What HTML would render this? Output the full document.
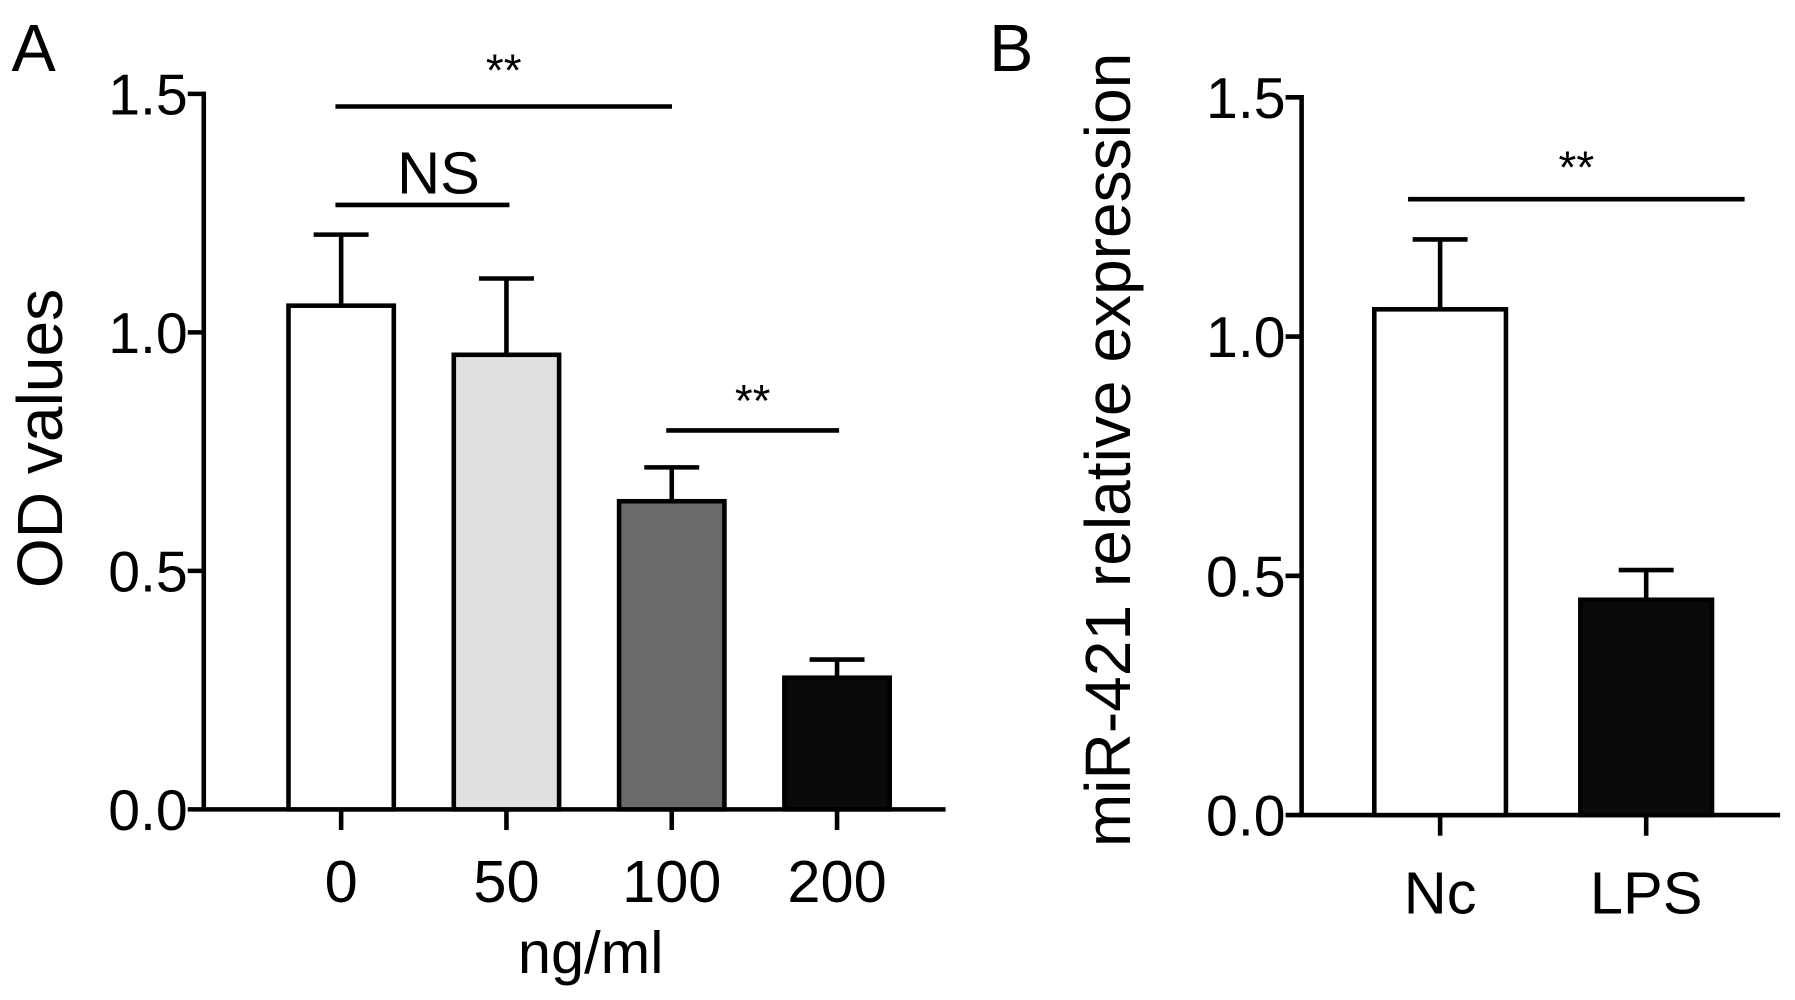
<!DOCTYPE html>
<html><head><meta charset="utf-8"><style>
html,body{margin:0;padding:0;background:#fff;}
svg{display:block;font-family:"Liberation Sans",Arial,sans-serif;}
</style></head><body>
<svg id="fig" width="1795" height="1000" viewBox="0 0 1568 873.5" xmlns="http://www.w3.org/2000/svg">
<text x="10" y="62" font-size="58">A</text>
<text x="864" y="62" font-size="58">B</text>
<g id="chartA"></g>
<g id="chartB"></g>
</svg>
<script>
const catsA = ["0","50","100","200"];
const valsA = [1.056, 0.953, 0.646, 0.276];
const errA = [0.149, 0.16, 0.071, 0.038];
const fillsA = ["#ffffff","#e0e0e0","#6a6a6a","#0a0a0a"];
const catsB = ["Nc","LPS"];
const valsB = [1.057, 0.45];
const errB = [0.146, 0.062];
const fillsB = ["#ffffff","#0a0a0a"];
const yTicks = [0, 0.5, 1.0, 1.5];
const yTickLabels = ["0.0","0.5","1.0","1.5"];
const NS="http://www.w3.org/2000/svg";
function mk(p,tag,a,txt){const e=document.createElementNS(NS,tag);for(const k in a)e.setAttribute(k,a[k]);if(txt!==undefined)e.textContent=txt;p.appendChild(e);return e;}
function chart(g,o){
  const y=v=>o.y0-(v/1.5)*(o.y0-o.y15);
  const x=i=>o.x0+o.step*i;
  let e;
  e=mk(g,'line',{x1:o.ax,y1:y(1.5)-2,x2:o.ax,y2:y(0),stroke:'#000','stroke-width':4});
  
  
  e=mk(g,'line',{x1:o.ax-2,y1:y(0),x2:o.axEnd,y2:y(0),stroke:'#000','stroke-width':4});
  
  
  yTicks.forEach((t,i)=>{
    e=mk(g,'line',{x1:o.ax-14,y1:y(t),x2:o.ax,y2:y(t),stroke:'#000','stroke-width':4});
    
    
    e=mk(g,'text',{x:o.ax-14,y:y(t)+18,'font-size':50,'text-anchor':'end'},yTickLabels[i]);
    
    
  });
  o.cats.forEach((c,i)=>{
    const cx=x(i), top=y(o.vals[i]), et=y(o.vals[i]+o.err[i]);
    e=mk(g,'line',{x1:cx,y1:et,x2:cx,y2:top,stroke:'#000','stroke-width':4});
    
    
    e=mk(g,'line',{x1:cx-o.cap,y1:et,x2:cx+o.cap,y2:et,stroke:'#000','stroke-width':4});
    
    
    e=mk(g,'rect',{x:cx-o.bw/2,y:top,width:o.bw,height:y(0)-top,fill:o.fills[i],stroke:'#000','stroke-width':4});
    
    
    e=mk(g,'line',{x1:cx,y1:y(0),x2:cx,y2:y(0)+18,stroke:'#000','stroke-width':4});
    
    
    e=mk(g,'text',{x:cx,y:o.labY,'font-size':52,'text-anchor':'middle'},c);
    
    
  });
  o.sig.forEach(s=>{
    e=mk(g,'line',{x1:s[0],y1:s[2],x2:s[1],y2:s[2],stroke:'#000','stroke-width':4});
    
    
    e=mk(g,'text',{x:(s[0]+s[1])/2+(s[3]=='NS'?14:0),y:s[2]+s[4],'font-size':s[3]=='NS'?52:40,'text-anchor':'middle'},s[3]);
    
    
  });
}
chart(document.getElementById('chartA'),{ax:178,axEnd:826,y0:707,y15:82,x0:298,step:144.4,bw:92,cap:24,cats:catsA,vals:valsA,err:errA,fills:fillsA,labY:788,
 sig:[[293,587,93,'**',-18],[293,445,179,'NS',-10],[582,733,376,'**',-12]]});
chart(document.getElementById('chartB'),{ax:1137,axEnd:1555,y0:712,y15:85,x0:1258,step:180,bw:115,cap:24,cats:catsB,vals:valsB,err:errB,fills:fillsB,labY:798,
 sig:[[1230,1524,174,'**',-14]]});
const svg=document.getElementById('fig');
let t=mk(svg,'text',{x:516,y:850,'font-size':52,'text-anchor':'middle'},'ng/ml');


t=mk(svg,'text',{x:0,y:0,'font-size':56,'text-anchor':'middle',transform:'translate(54,383) rotate(-90)'},'OD values');


t=mk(svg,'text',{x:0,y:0,'font-size':56,'text-anchor':'middle',transform:'translate(987,393) rotate(-90)'},'miR-421 relative expression');


</script>
</body></html>
